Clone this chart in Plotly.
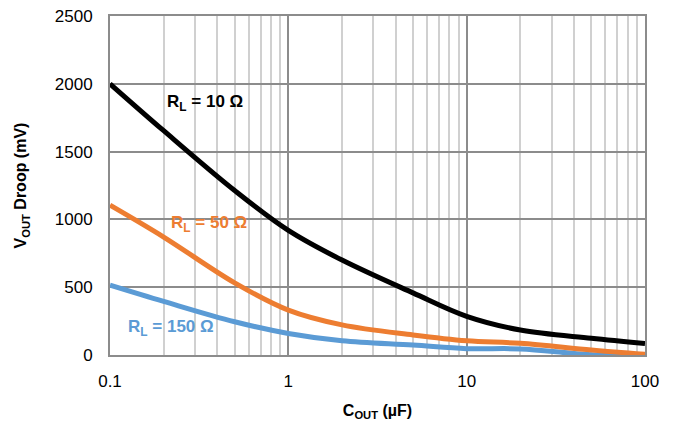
import math
import plotly.graph_objects as go

cout = [0.1, 0.2, 0.5, 1, 2, 5, 10, 20, 50, 100]
rl10 = [2000, 1654, 1213, 919, 700, 458, 285, 184, 123, 84]
rl50 = [1105, 870, 532, 331, 222, 148, 105, 86, 37, 5]
rl150 = [515, 395, 245, 159, 105, 73, 47, 45, 2, 0]

series = [
    ("R<sub>L</sub> = 10 Ω", rl10, "#000000"),
    ("R<sub>L</sub> = 50 Ω", rl50, "#ED7D31"),
    ("R<sub>L</sub> = 150 Ω", rl150, "#5B9BD5"),
]

fig = go.Figure()
for name, ys, col in series[::-1]:
    fig.add_trace(go.Scatter(x=cout, y=ys, mode="lines", name=name,
                             line=dict(color=col, width=5, shape="spline", smoothing=1.0)))

font = "Liberation Sans, Arial, sans-serif"
annots = [
    (0.34, 1860, "R<sub>L</sub> = 10 Ω", "#000000"),
    (0.36, 965, "R<sub>L</sub> = 50 Ω", "#ED7D31"),
    (0.22, 200, "R<sub>L</sub> = 150 Ω", "#5B9BD5"),
]
for x, y, t, c in annots:
    fig.add_annotation(x=math.log10(x), y=y, text="<b>" + t + "</b>", showarrow=False,
                       font=dict(family=font, size=17, color=c), xanchor="center", yanchor="middle")

fig.update_layout(
    width=675, height=422,
    margin=dict(l=110, r=30, t=16, b=67),
    paper_bgcolor="white", plot_bgcolor="white",
    showlegend=False,
    font=dict(family=font, size=16, color="#000000"),
)
fig.update_xaxes(
    type="log", range=[-1, 2], tickvals=[0.1, 1, 10, 100], ticktext=["0.1", "1", "10", "100"],
    showgrid=True, gridcolor="#8c8c8c", gridwidth=2,
    minor=dict(tickvals=[k * 10 ** e for e in (-1, 0, 1) for k in range(2, 10)], showgrid=True,
               gridcolor="#d0d0d0", gridwidth=1.5, ticks=""),
    showline=True, linecolor="#8c8c8c", linewidth=2, mirror=True,
    ticks="", zeroline=False, ticklabelstandoff=10, automargin=False,
    title=dict(text="<b>C<sub>OUT</sub> (µF)</b>", font=dict(size=16), standoff=14),
    tickfont=dict(size=17),
)
fig.update_yaxes(
    range=[0, 2500], dtick=500,
    showgrid=True, gridcolor="#8c8c8c", gridwidth=2,
    showline=True, linecolor="#8c8c8c", linewidth=2, mirror=True,
    ticks="", zeroline=False, ticklabelstandoff=12, automargin=False,
    title=dict(text="<b>V<sub>OUT</sub> Droop (mV)</b>", font=dict(size=16), standoff=24),
    tickfont=dict(size=17),
)
fig.write_html("out.html")
